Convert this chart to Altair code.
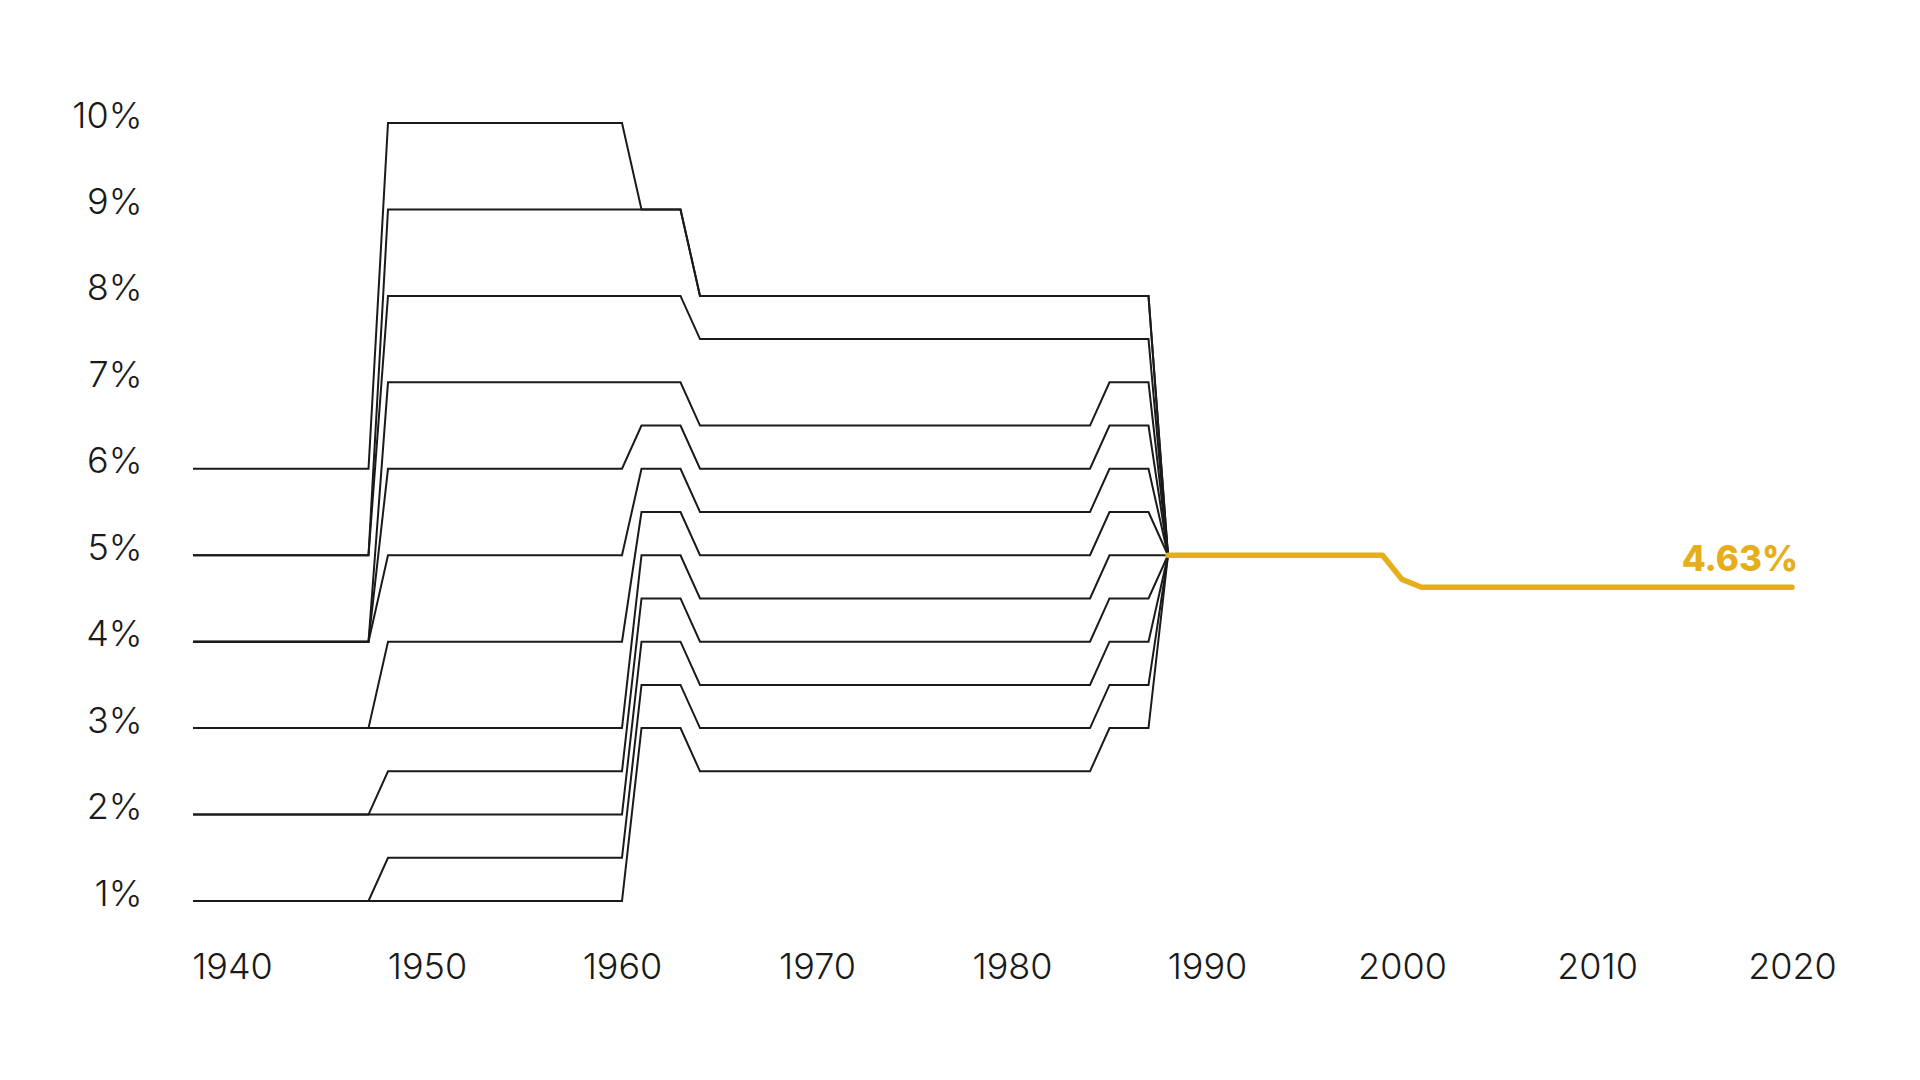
import altair as alt
import pandas as pd

# ---- data ----
line_names = ["L1", "L2", "L3", "L4", "L5", "L6", "L7", "L8", "L9", "L10", "L11", "L12"]
# level held over each period (start year, end year)
periods = [(1938, 1947), (1948, 1960), (1961, 1963), (1964, 1984), (1985, 1987)]
level_1938 = [6, 5, 5, 4, 4, 4, 3, 3, 2, 2, 1, 1]
level_1948 = [10, 9, 8, 7, 6, 5, 4, 3, 2.5, 2, 1.5, 1]
level_1961 = [9, 9, 8, 7, 6.5, 6, 5.5, 5, 4.5, 4, 3.5, 3]
level_1964 = [8, 8, 7.5, 6.5, 6, 5.5, 5, 4.5, 4, 3.5, 3, 2.5]
level_1985 = [8, 8, 7.5, 7, 6.5, 6, 5.5, 5, 4.5, 4, 3.5, 3]
merge_year = 1988
merge_rate = 5.0

yellow_years = [1988, 1999, 2000, 2001, 2020]
yellow_rates = [5.0, 5.0, 4.72, 4.63, 4.63]

label_year = 2020
label_rate = 4.63
label_text = "4.63%"

x_ticks = [1940, 1950, 1960, 1970, 1980, 1990, 2000, 2010, 2020]
y_ticks = [1, 2, 3, 4, 5, 6, 7, 8, 9, 10]

# ---- build tables ----
levels = [level_1938, level_1948, level_1961, level_1964, level_1985]
rows = []
for i, name in enumerate(line_names):
    k = 0
    for p, (y0, y1) in enumerate(periods):
        for yr in (y0, y1):
            rows.append({"line": name, "k": k, "year": yr, "rate": levels[p][i]})
            k += 1
    rows.append({"line": name, "k": k, "year": merge_year, "rate": merge_rate})
black_df = pd.DataFrame(rows)

yellow_df = pd.DataFrame({"k": list(range(len(yellow_years))),
                          "year": yellow_years, "rate": yellow_rates})
label_df = pd.DataFrame({"year": [label_year], "rate": [label_rate], "text": [label_text]})

FONT = "Inter"
INK = "#1a1a1a"
GOLD = "#E5AE1A"

x_enc = alt.X("year:Q",
              scale=alt.Scale(domain=[1938, 2020], nice=False, zero=False),
              axis=alt.Axis(values=x_ticks, format="d", title=None, grid=False,
                            domain=False, ticks=False, tickSize=0,
                            labelFont=FONT, labelFontSize=36, labelFontWeight=300,
                            labelColor=INK, labelPadding=77,
                            labelBaseline="alphabetic", labelFlush=False))
y_enc = alt.Y("rate:Q",
              scale=alt.Scale(domain=[1, 10], nice=False, zero=False),
              axis=alt.Axis(values=y_ticks, labelExpr="datum.value + '%'", title=None,
                            grid=False, domain=False, ticks=False, tickSize=0,
                            labelFont=FONT, labelFontSize=36, labelFontWeight=300,
                            labelColor=INK, labelPadding=51, labelAlign="right",
                            labelBaseline="alphabetic", labelOffset=4, labelFlush=False))

black = alt.Chart(black_df).mark_line(color=INK, strokeWidth=2, clip=False).encode(
    x=x_enc, y=y_enc, detail="line:N", order="k:Q")

yellow = alt.Chart(yellow_df).mark_line(color=GOLD, strokeWidth=5.5, strokeCap="round",
                                        strokeJoin="round", clip=False).encode(
    x="year:Q", y="rate:Q", order="k:Q")

label = alt.Chart(label_df).mark_text(align="right", baseline="alphabetic", dx=6, dy=-16,
                                      font=FONT, fontSize=35, fontWeight=800,
                                      color=GOLD).encode(
    x="year:Q", y="rate:Q", text="text:N")

chart = alt.layer(black, yellow, label).properties(
    width=1599, height=778,
    autosize=alt.AutoSizeParams(type="none"),
    padding={"left": 185, "top": 115, "right": 120, "bottom": 171},
    background="white",
).configure_view(stroke=None)

chart.save("out.html", embed_options={"renderer": "svg", "actions": False})
